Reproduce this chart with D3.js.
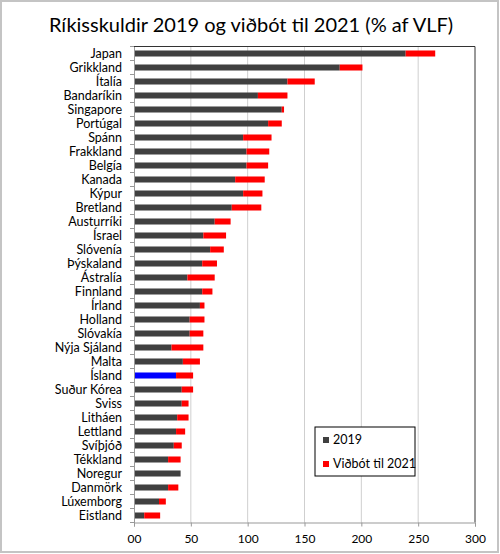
<!DOCTYPE html>
<html>
<head>
<meta charset="utf-8">
<script src="https://cdn.jsdelivr.net/npm/d3@7"></script>
<style>
  body { margin: 0; background: #fff; }
  text { font-family: Lato, "Open Sans", sans-serif; fill: #000; }
</style>
</head>
<body>
<script>
// data
var countries = ["Japan", "Grikkland", "Ítalía", "Bandaríkin", "Singapore", "Portúgal", "Spánn",
  "Frakkland", "Belgía", "Kanada", "Kýpur", "Bretland", "Austurríki", "Ísrael", "Slóvenía",
  "Þýskaland", "Ástralía", "Finnland", "Írland", "Holland", "Slóvakía", "Nýja Sjáland", "Malta",
  "Ísland", "Suður Kórea", "Sviss", "Litháen", "Lettland", "Svíþjóð", "Tékkland", "Noregur",
  "Danmörk", "Lúxemborg", "Eistland"];
var debt2019 = [239, 181, 135, 109, 130, 118, 96, 99, 99, 89, 96, 86, 71, 61, 67, 60, 47, 60, 58,
  49, 49, 33, 43, 37, 42, 42, 38, 37, 35, 30, 41, 30, 22, 9];
var addTo2021 = [26, 20, 24, 26, 2, 12, 25, 20, 19, 26, 17, 26, 14, 20, 12, 13, 24, 9, 4, 13, 12,
  28, 15, 15, 10, 6, 10, 8, 7, 11, 0, 9, 6, 14];
var xTicks = [0, 50, 100, 150, 200, 250, 300];
var xTickLabels = ["00", "50", "100", "150", "200", "250", "300"];
var seriesNames = ["2019", "Viðbót til 2021"];
var highlight = "Ísland";

var width = 500, height = 554;
var plot = {left: 134, right: 475, top: 46.5, bottom: 522.5};

var svg = d3.select("body").append("svg")
  .attr("width", width)
  .attr("height", height);

// outer chart border
svg.append("rect")
  .attr("x", 1).attr("y", 1)
  .attr("width", width - 3).attr("height", height - 3)
  .attr("fill", "#fff")
  .attr("stroke", "#c4c4c4")
  .attr("stroke-width", 2);

svg.append("text")
  .attr("x", 251)
  .attr("y", 32)
  .attr("text-anchor", "middle")
  .style("font-size", "20px")
  .text("Ríkisskuldir 2019 og viðbót til 2021 (% af VLF)");

var x = d3.scaleLinear().domain([0, 300]).range([plot.left, plot.right]);
var y = d3.scaleBand().domain(countries)
  .range([plot.top, plot.bottom])
  .paddingInner(0.57).paddingOuter(0.285);

// gridlines
svg.append("g")
  .selectAll("line")
  .data(xTicks.slice(1, -1))
  .enter().append("line")
  .attr("x1", function(d) { return x(d); })
  .attr("x2", function(d) { return x(d); })
  .attr("y1", plot.top)
  .attr("y2", plot.bottom)
  .attr("stroke", "#cfcfcf")
  .attr("stroke-width", 1);

// frame top and right
svg.append("path")
  .attr("d", "M" + plot.left + "," + plot.top + "H" + plot.right + "V" + plot.bottom)
  .attr("fill", "none")
  .attr("stroke", "#333")
  .attr("stroke-width", 1);

// bars: 2019
svg.append("g")
  .selectAll("rect")
  .data(countries)
  .enter().append("rect")
  .attr("x", x(0))
  .attr("y", function(d) { return y(d); })
  .attr("width", function(d, i) { return x(debt2019[i]) - x(0); })
  .attr("height", y.bandwidth())
  .attr("fill", function(d) { return d === highlight ? "#0000ff" : "#404040"; });

// bars: addition to 2021
svg.append("g")
  .selectAll("rect")
  .data(countries)
  .enter().append("rect")
  .attr("x", function(d, i) { return x(debt2019[i]); })
  .attr("y", function(d) { return y(d); })
  .attr("width", function(d, i) { return x(debt2019[i] + addTo2021[i]) - x(debt2019[i]); })
  .attr("height", y.bandwidth())
  .attr("fill", "#ff0000");

// y axis
var yAxis = d3.axisLeft(y).tickSize(0).tickPadding(12);
var gy = svg.append("g")
  .attr("transform", "translate(" + plot.left + ",0)")
  .call(yAxis);
gy.select(".domain").attr("stroke", "#999");
gy.selectAll("text").style("font-size", "12.5px").attr("fill", "#000");
// small ticks between categories
gy.selectAll(".sep")
  .data(d3.range(countries.length + 1))
  .enter().append("line")
  .attr("class", "sep")
  .attr("x1", -4).attr("x2", 0)
  .attr("y1", function(i) { return plot.top + i * y.step(); })
  .attr("y2", function(i) { return plot.top + i * y.step(); })
  .attr("stroke", "#999");

// x axis
var xAxis = d3.axisBottom(x)
  .tickValues(xTicks)
  .tickSize(4)
  .tickPadding(8)
  .tickFormat(function(d, i) { return xTickLabels[i]; });
var gx = svg.append("g")
  .attr("transform", "translate(0," + plot.bottom + ")")
  .call(xAxis);
gx.select(".domain").attr("stroke", "#999");
gx.selectAll(".tick line").attr("stroke", "#999");
gx.selectAll("text").style("font-size", "12px").attr("fill", "#000");

// legend
var legend = svg.append("g").attr("transform", "translate(315,427)");
legend.append("rect")
  .attr("width", 100).attr("height", 49)
  .attr("fill", "#fff")
  .attr("stroke", "#000")
  .attr("stroke-width", 1);
var items = legend.selectAll(".item")
  .data(seriesNames)
  .enter().append("g")
  .attr("class", "item")
  .attr("transform", function(d, i) { return "translate(8," + (13 + i * 24) + ")"; });
items.append("rect")
  .attr("y", -3)
  .attr("width", 6).attr("height", 6)
  .attr("fill", function(d, i) { return i === 0 ? "#404040" : "#ff0000"; });
items.append("text")
  .attr("x", 10)
  .attr("dy", "0.35em")
  .style("font-size", "12.5px")
  .text(function(d) { return d; });
</script>
</body>
</html>
